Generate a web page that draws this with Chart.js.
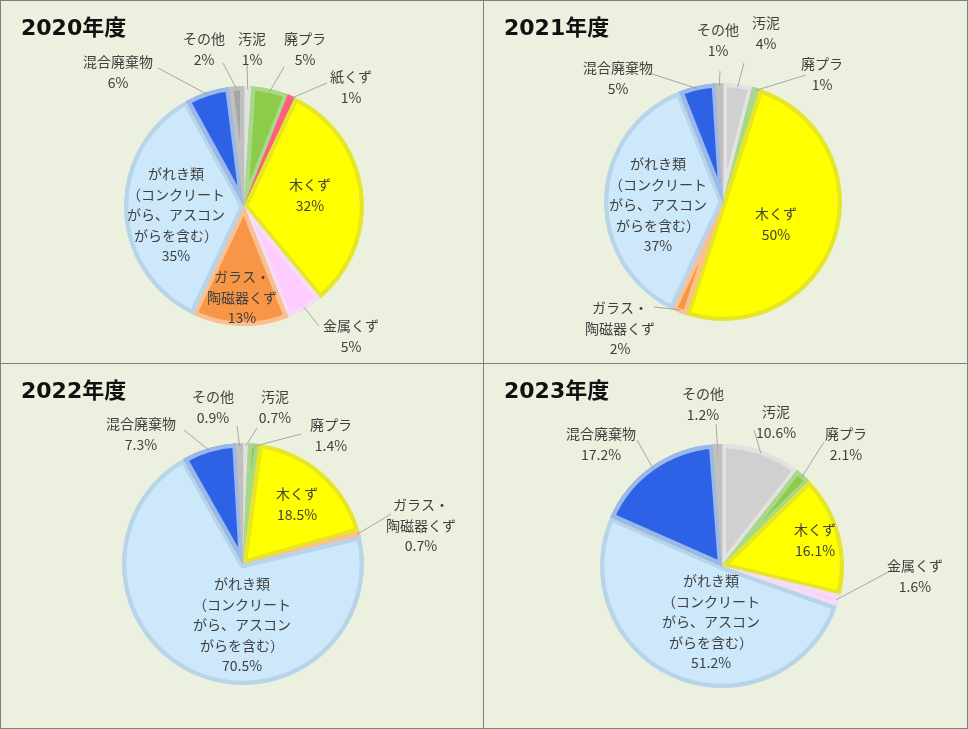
<!DOCTYPE html>
<html><head><meta charset="utf-8">
<script src="https://cdn.jsdelivr.net/npm/chart.js@4/dist/chart.umd.min.js"></script>
<style>
body{margin:0;background:#fff;}
#wrap{position:relative;width:966px;height:727px;border:1px solid #808080;background:#ebf1de;}
.p{position:absolute;width:482px;height:362px;}
.p canvas{position:absolute;left:0;top:0;}
#vl{position:absolute;left:482px;top:0;width:1px;height:727px;background:#808080;}
#hl{position:absolute;left:0;top:362px;width:966px;height:1px;background:#808080;}
</style></head><body>
<div id="wrap">
<div class="p" style="left:0;top:0"><canvas id="c0" width="482" height="362"></canvas></div>
<div class="p" style="left:483px;top:0"><canvas id="c1" width="482" height="362"></canvas></div>
<div class="p" style="left:0;top:363px"><canvas id="c2" width="482" height="362"></canvas></div>
<div class="p" style="left:483px;top:363px"><canvas id="c3" width="482" height="362"></canvas></div>
<div id="vl"></div><div id="hl"></div>
</div>
<script>
const titles = ['2020年度','2021年度','2022年度','2023年度'];
const cats2020 = ['汚泥','廃プラ','紙くず','木くず','金属くず','ガラス・陶磁器くず','がれき類','混合廃棄物','その他'];
const vals2020 = [1,5,1,32,5,13,35,6,2];
const cats2021 = ['汚泥','廃プラ','木くず','ガラス・陶磁器くず','がれき類','混合廃棄物','その他'];
const vals2021 = [4,1,50,2,37,5,1];
const cats2022 = ['汚泥','廃プラ','木くず','ガラス・陶磁器くず','がれき類','混合廃棄物','その他'];
const vals2022 = [0.7,1.4,18.5,0.7,70.5,7.3,0.9];
const cats2023 = ['汚泥','廃プラ','木くず','金属くず','がれき類','混合廃棄物','その他'];
const vals2023 = [10.6,2.1,16.1,1.6,51.2,17.2,1.2];
const pctLabels = [
 ['1%','5%','1%','32%','5%','13%','35%','6%','2%'],
 ['4%','1%','50%','2%','37%','5%','1%'],
 ['0.7%','1.4%','18.5%','0.7%','70.5%','7.3%','0.9%'],
 ['10.6%','2.1%','16.1%','1.6%','51.2%','17.2%','1.2%']
];
const fill = {'汚泥':'#d0d0d0','廃プラ':'#8ccc4a','紙くず':'#e0143c','木くず':'#ffff00','金属くず':'#ffccff','ガラス・陶磁器くず':'#f79646','がれき類':'#cce8fa','混合廃棄物':'#2e62e6','その他':'#a6a6a6'};
const edge = {'汚泥':'#e2e2e2','廃プラ':'#a8d88a','紙くず':'#ff6080','木くず':'#e6e628','金属くず':'#f4dcf4','ガラス・陶磁器くず':'#fac090','がれき類':'#b8d4e8','混合廃棄物':'#9ab8e8','その他':'#c0c0c0'};
const nameLines = {'汚泥':['汚泥'],'廃プラ':['廃プラ'],'紙くず':['紙くず'],'木くず':['木くず'],'金属くず':['金属くず'],'ガラス・陶磁器くず':['ガラス・','陶磁器くず'],'がれき類':['がれき類','（コンクリート','がら、アスコン','がらを含む）'],'混合廃棄物':['混合廃棄物'],'その他':['その他']};
// label layout (text center x, first line y, leader end) in panel px
const layouts = [
 [[251,38,[246,64]],[304,38,[283,66]],[350,76,[326,82]],[309,184],[350,325,[318,325]],[241,276],[175,173],[117,61,[157,67]],[203,38,[222,62]]],
 [[282,22,[260,62]],[338,63,[322,74]],[292,213],[136,307,[170,306]],[174,163],[134,67,[165,72]],[234,29,[236,70]]],
 [[274,33,[256,64]],[330,61,[300,70]],[296,130],[420,141,[390,150]],[241,220],[140,60,[183,66]],[212,33,[236,62]]],
 [[292,48,[270,66]],[362,70,[340,78]],[331,166],[431,202,[408,206]],[227,217],[117,70,[153,76]],[219,30,[232,60]]]
];
const geo = [[243,205,120],[239,201,119],[242,200,121],[238,202,122]];
const allCats=[cats2020,cats2021,cats2022,cats2023], allVals=[vals2020,vals2021,vals2022,vals2023];

const labelPlugin = {id:'lbl', afterDraw(chart){
  const k = chart.options.plugins.lbl.k; const ctx = chart.ctx;
  const meta = chart.getDatasetMeta(0);
  ctx.save();
  ctx.fillStyle='#111'; ctx.font='bold 22px "DejaVu Sans","Noto Sans CJK JP",sans-serif';
  ctx.textAlign='left'; ctx.textBaseline='middle';
  ctx.fillText(titles[k], 20, 28);
  ctx.font='14px "Noto Sans CJK JP",sans-serif'; ctx.textAlign='center';
  allCats[k].forEach((c,i)=>{
    const L = layouts[k][i]; const a = meta.data[i];
    if(L[2]){
      const m=(a.startAngle+a.endAngle)/2, r=a.outerRadius-3;
      ctx.strokeStyle='#a6a6a6'; ctx.lineWidth=1; ctx.beginPath();
      ctx.moveTo(a.x+Math.cos(m)*r, a.y+Math.sin(m)*r); ctx.lineTo(L[2][0],L[2][1]); ctx.stroke();
    }
    const lines=[...nameLines[c], pctLabels[k][i]];
    ctx.fillStyle='#404040';
    lines.forEach((t,j)=>ctx.fillText(t, L[0], L[1]+j*20.5));
  });
  ctx.restore();
}};
for(let k=0;k<4;k++){
  const [cx,cy,r]=geo[k], W=482,H=362;
  new Chart(document.getElementById('c'+k),{type:'pie',
    data:{labels:allCats[k],datasets:[{data:allVals[k],backgroundColor:allCats[k].map(c=>fill[c]),borderColor:allCats[k].map(c=>edge[c]),borderWidth:4,borderAlign:'inner'}]},
    options:{responsive:false,animation:false,layout:{padding:{left:cx-r,right:W-cx-r,top:cy-r,bottom:H-cy-r}},
      plugins:{legend:{display:false},tooltip:{enabled:false},lbl:{k}}},
    plugins:[labelPlugin]});
}
</script></body></html>
